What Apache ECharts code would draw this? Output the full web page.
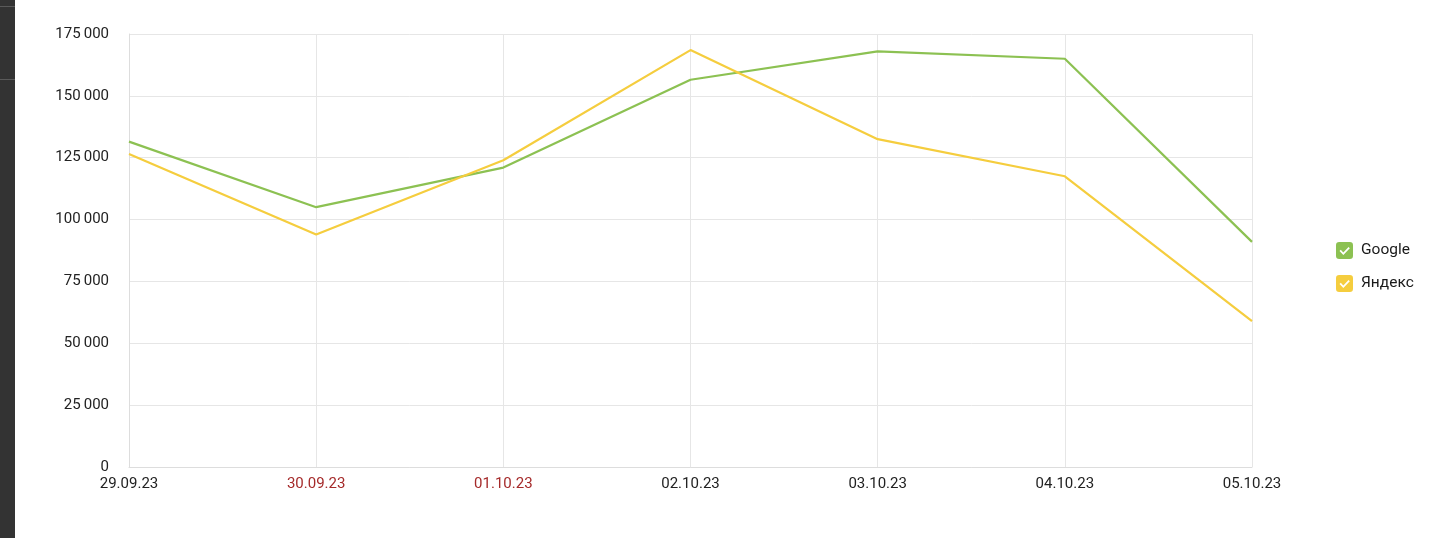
<!DOCTYPE html>
<html>
<head>
<meta charset="utf-8">
<script src="https://cdn.jsdelivr.net/npm/echarts@6/dist/echarts.min.js"></script>
<style>
html,body{margin:0;padding:0;background:#fff;}
#c{width:1439px;height:538px;}
</style>
</head>
<body>
<div id="c"></div>
<script>
const categories = ['29.09.23','30.09.23','01.10.23','02.10.23','03.10.23','04.10.23','05.10.23'];
const weekendLabels = ['30.09.23','01.10.23'];
const googleValues = [131500, 105000, 121000, 156500, 168000, 165000, 91000];
const yandexValues = [126500, 94000, 124000, 168500, 132500, 117500, 59000];
const seriesNames = ['Google', 'Яндекс'];

const checkIcon = 'path://M3,0 H13 Q16,0 16,3 V13 Q16,16 13,16 H3 Q0,16 0,13 V3 Q0,0 3,0 Z M3.3,8.5 L6.9,12.3 L13.0,5.9 L11.8,4.8 L6.9,9.9 L4.5,7.3 Z';

const chart = echarts.init(document.getElementById('c'));
chart.setOption({
  animation: false,
  backgroundColor: '#ffffff',
  textStyle: { fontFamily: 'Roboto' },
  graphic: [
    { type: 'rect', left: 0, top: 0, shape: { width: 15, height: 538 }, style: { fill: '#333333' } },
    { type: 'rect', left: 0, top: 6, shape: { width: 15, height: 1 }, style: { fill: '#5a5a5a' } },
    { type: 'rect', left: 0, top: 79, shape: { width: 15, height: 1 }, style: { fill: '#5a5a5a' } }
  ],
  grid: { left: 129, right: 187, top: 34, bottom: 71, containLabel: false },
  legend: {
    orient: 'vertical',
    left: 1336,
    top: 242,
    padding: 0,
    itemWidth: 17,
    itemHeight: 17,
    itemGap: 16,
    icon: checkIcon,
    textStyle: { fontSize: 15.5, color: '#1a1a1a', fontFamily: 'Roboto', padding: [0, 0, 0, 3] },
    data: seriesNames
  },
  xAxis: {
    type: 'category',
    boundaryGap: false,
    data: categories,
    axisLine: { lineStyle: { color: '#dddddd', width: 1 } },
    axisTick: { show: false },
    splitLine: { show: true, lineStyle: { color: '#e6e6e6', width: 1 } },
    axisLabel: {
      fontSize: 15,
      margin: 10,
      interval: 0,
      color: function (v) { return weekendLabels.indexOf(v) >= 0 ? '#a52a2a' : '#222'; }
    }
  },
  yAxis: {
    type: 'value',
    min: 0,
    max: 175000,
    interval: 25000,
    axisLine: { show: true, lineStyle: { color: '#dddddd', width: 1 } },
    axisTick: { show: false },
    splitLine: { show: true, lineStyle: { color: '#e6e6e6', width: 1 } },
    axisLabel: {
      fontSize: 15,
      margin: 20,
      color: '#222',
      formatter: function (v) { return String(v).replace(/\B(?=(\d{3})+(?!\d))/g, '\u2009'); }
    }
  },
  series: [
    {
      name: seriesNames[0], type: 'line', data: googleValues,
      symbol: 'none', color: '#8cc152',
      lineStyle: { width: 2.2, color: '#8cc152' }
    },
    {
      name: seriesNames[1], type: 'line', data: yandexValues,
      symbol: 'none', color: '#f5cd3e',
      lineStyle: { width: 2.2, color: '#f5cd3e' }
    }
  ]
});
</script>
</body>
</html>
